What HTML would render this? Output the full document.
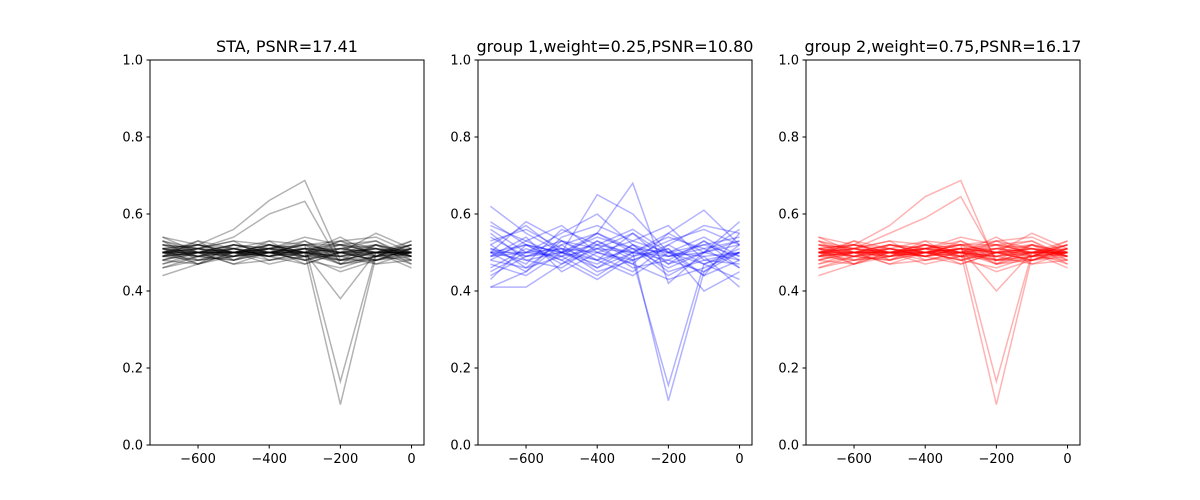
<!DOCTYPE html>
<html><head><meta charset="utf-8">
<style>html,body{margin:0;padding:0;background:#fff;}svg{display:block;font-family:"DejaVu Sans","Liberation Sans",sans-serif;}</style>
</head><body>
<svg id="fig" width="1200" height="500"></svg>
<script>
const xValues=[-700,-600,-500,-400,-300,-200,-100,0];
const xTicks=[-600,-400,-200,0];
const yTicks=[0,0.2,0.4,0.6,0.8,1.0];
const titles=["STA, PSNR=17.41","group 1,weight=0.25,PSNR=10.80","group 2,weight=0.75,PSNR=16.17"];
const sharedNormal=[
[0.52,0.51,0.49,0.50,0.51,0.50,0.48,0.50],[0.48,0.50,0.51,0.49,0.50,0.52,0.51,0.49],
[0.50,0.49,0.50,0.52,0.49,0.48,0.50,0.51],[0.51,0.52,0.50,0.51,0.53,0.49,0.50,0.52],
[0.49,0.48,0.49,0.50,0.48,0.51,0.52,0.50],[0.54,0.52,0.50,0.49,0.51,0.50,0.49,0.48],
[0.44,0.47,0.49,0.50,0.52,0.50,0.51,0.50],[0.50,0.51,0.53,0.52,0.50,0.47,0.48,0.49],
[0.47,0.49,0.48,0.51,0.50,0.53,0.54,0.50],[0.53,0.50,0.52,0.50,0.49,0.51,0.50,0.53],
[0.50,0.50,0.47,0.48,0.50,0.49,0.52,0.47],[0.52,0.49,0.51,0.53,0.52,0.50,0.48,0.51],
[0.49,0.51,0.50,0.47,0.49,0.52,0.50,0.50],[0.51,0.50,0.49,0.51,0.54,0.52,0.53,0.49],
[0.48,0.47,0.50,0.49,0.51,0.48,0.49,0.52],[0.50,0.53,0.51,0.50,0.48,0.50,0.51,0.50],
[0.46,0.48,0.50,0.52,0.50,0.49,0.47,0.48],[0.52,0.51,0.48,0.50,0.51,0.51,0.50,0.46],
[0.50,0.49,0.52,0.51,0.49,0.45,0.48,0.51],[0.51,0.52,0.51,0.49,0.50,0.50,0.55,0.51],
[0.49,0.50,0.49,0.52,0.51,0.47,0.49,0.50],[0.53,0.51,0.50,0.50,0.52,0.53,0.51,0.49],
[0.50,0.48,0.51,0.49,0.47,0.50,0.50,0.52],[0.48,0.50,0.52,0.51,0.50,0.48,0.52,0.50],
[0.51,0.49,0.50,0.48,0.50,0.51,0.49,0.51],[0.50,0.51,0.50,0.50,0.51,0.50,0.50,0.50],
[0.49,0.50,0.51,0.50,0.49,0.50,0.51,0.49],[0.51,0.50,0.50,0.51,0.50,0.49,0.50,0.51],
[0.47,0.50,0.52,0.50,0.48,0.46,0.49,0.52],[0.53,0.48,0.49,0.51,0.52,0.52,0.47,0.50],
[0.49,0.53,0.48,0.52,0.50,0.51,0.53,0.48],[0.51,0.47,0.50,0.49,0.53,0.48,0.50,0.47],
[0.48,0.51,0.53,0.48,0.49,0.53,0.49,0.53],[0.52,0.50,0.47,0.50,0.52,0.47,0.52,0.49],
[0.50,0.52,0.49,0.53,0.48,0.50,0.48,0.51],[0.46,0.49,0.51,0.49,0.51,0.52,0.50,0.50],
[0.54,0.50,0.50,0.52,0.49,0.49,0.51,0.48],[0.50,0.47,0.52,0.50,0.50,0.54,0.49,0.52],
[0.49,0.52,0.50,0.51,0.47,0.50,0.52,0.49],[0.51,0.49,0.48,0.50,0.50,0.48,0.48,0.50]];
const staOutliers=[[0.50,0.52,0.56,0.635,0.687,0.48,0.50,0.50],[0.50,0.51,0.54,0.60,0.633,0.47,0.49,0.50],
[0.50,0.50,0.50,0.51,0.52,0.165,0.50,0.50],[0.49,0.50,0.50,0.50,0.50,0.105,0.49,0.50],[0.50,0.50,0.50,0.50,0.50,0.38,0.50,0.49]];
const blueSeries=[
[0.62,0.55,0.50,0.47,0.52,0.45,0.48,0.50],[0.41,0.45,0.52,0.55,0.50,0.48,0.53,0.46],
[0.50,0.58,0.53,0.49,0.45,0.52,0.57,0.55],[0.55,0.48,0.46,0.52,0.56,0.50,0.44,0.48],
[0.45,0.50,0.55,0.60,0.52,0.47,0.50,0.58],[0.52,0.46,0.49,0.44,0.50,0.55,0.61,0.52],
[0.48,0.53,0.57,0.50,0.47,0.43,0.46,0.50],[0.58,0.52,0.48,0.53,0.49,0.51,0.40,0.45],
[0.41,0.41,0.47,0.51,0.55,0.49,0.52,0.54],[0.53,0.56,0.51,0.45,0.48,0.52,0.47,0.43],
[0.47,0.44,0.50,0.54,0.51,0.46,0.50,0.56],[0.56,0.50,0.53,0.48,0.44,0.50,0.54,0.49],
[0.49,0.54,0.45,0.50,0.53,0.57,0.48,0.47],[0.44,0.49,0.52,0.46,0.50,0.54,0.51,0.53],
[0.51,0.47,0.56,0.52,0.46,0.48,0.45,0.50],[0.57,0.53,0.49,0.55,0.51,0.44,0.49,0.41],
[0.46,0.51,0.48,0.43,0.49,0.53,0.56,0.52],[0.50,0.45,0.54,0.57,0.53,0.50,0.47,0.51],
[0.54,0.49,0.51,0.48,0.55,0.47,0.53,0.48],[0.43,0.52,0.47,0.53,0.48,0.51,0.44,0.55],
[0.52,0.57,0.50,0.46,0.52,0.49,0.51,0.46],[0.48,0.46,0.53,0.51,0.47,0.55,0.50,0.53],
[0.50,0.50,0.49,0.51,0.50,0.49,0.50,0.52],[0.49,0.52,0.50,0.48,0.51,0.50,0.49,0.50],
[0.50,0.52,0.50,0.55,0.68,0.42,0.50,0.48],[0.49,0.50,0.51,0.50,0.48,0.155,0.47,0.50],
[0.51,0.49,0.50,0.52,0.50,0.115,0.45,0.52],[0.50,0.48,0.50,0.65,0.60,0.50,0.52,0.49]];
const redOutliers=[[0.50,0.52,0.57,0.645,0.687,0.47,0.50,0.50],[0.50,0.51,0.55,0.59,0.645,0.48,0.49,0.50],
[0.50,0.50,0.50,0.51,0.52,0.165,0.50,0.50],[0.49,0.50,0.50,0.50,0.50,0.105,0.49,0.50],[0.50,0.50,0.50,0.50,0.51,0.40,0.50,0.49]];

const NS="http://www.w3.org/2000/svg";
const svg=document.getElementById('fig');
function mk(tag,attrs,parent){const e=document.createElementNS(NS,tag);for(const k in attrs)e.setAttribute(k,attrs[k]);(parent||svg).appendChild(e);return e;}
const panels=[
 {left:150,series:sharedNormal.concat(staOutliers),color:"#000000",alpha:0.3,name:"sta"},
 {left:478,series:blueSeries,color:"#0000ff",alpha:0.3,name:"group-1"},
 {left:806,series:sharedNormal.concat(redOutliers),color:"#ff0000",alpha:0.3,name:"group-2"}];
const W=274,topY=60,bottomY=445,xmin=-735,xmax=35;
panels.forEach((p,i)=>{
 const g=mk('g',{});
 
 
 const X=v=>p.left+(v-xmin)/(xmax-xmin)*W;
 const Y=v=>bottomY-v*(bottomY-topY);
 p.series.forEach((s,j)=>{
  const d=s.map((v,k)=>(k?'L':'M')+X(xValues[k]).toFixed(2)+','+Y(v).toFixed(2)).join('');
  const pa=mk('path',{d:d,fill:'none',stroke:p.color,'stroke-opacity':p.alpha,'stroke-width':1.5},g);
  
  
 });
 const fr=mk('rect',{x:p.left,y:topY,width:W,height:bottomY-topY,fill:'none',stroke:'#000','stroke-width':1},g);
 
 
 yTicks.forEach(t=>{
  mk('line',{x1:p.left,x2:p.left-3.5,y1:Y(t),y2:Y(t),stroke:'#000'},g);
  const tx=mk('text',{x:p.left-7,y:Y(t)+4.5,'text-anchor':'end','font-size':13},g);
  tx.textContent=t.toFixed(1);
  
  
 });
 xTicks.forEach(t=>{
  mk('line',{x1:X(t),x2:X(t),y1:bottomY,y2:bottomY+3.5,stroke:'#000'},g);
  const tx=mk('text',{x:X(t),y:bottomY+18,'text-anchor':'middle','font-size':13},g);
  tx.textContent=t<0?'\u2212'+Math.abs(t):String(t);
  
  
 });
 const ti=mk('text',{x:p.left+W/2,y:topY-8,'text-anchor':'middle','font-size':16},g);
 ti.textContent=titles[i];
 
 
});
</script>
</body></html>
